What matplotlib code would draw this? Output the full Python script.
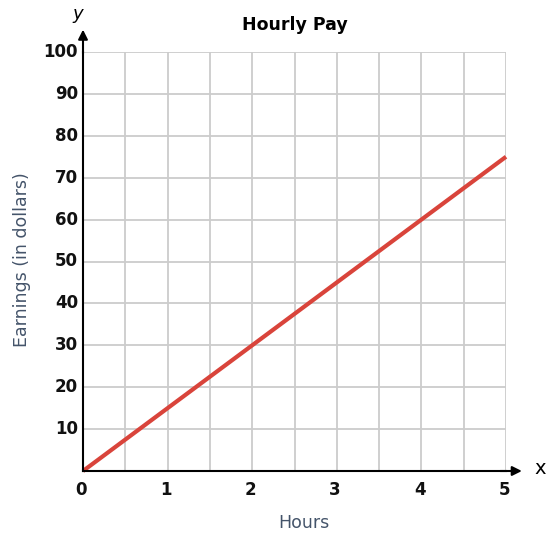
import numpy as np
import matplotlib.pyplot as plt

hours = [0, 5]
earnings = [0, 75]
x_ticks = [0, 1, 2, 3, 4, 5]
y_ticks = [10, 20, 30, 40, 50, 60, 70, 80, 90, 100]

fig = plt.figure(figsize=(5.5, 5.4), dpi=100)
ax = fig.add_axes([83 / 550, 69 / 540, 423 / 550, 419 / 540])
ax.set_xlim(0, 5)
ax.set_ylim(0, 100)

ax.set_xticks(np.arange(0, 5.01, 0.5), minor=False)
ax.set_yticks(np.arange(0, 100.1, 10))
ax.grid(True, color="#cccccc", linewidth=1.3)
ax.set_xticklabels([])
ax.set_yticklabels([])
ax.tick_params(length=0)
for s in ["top", "right"]:
    ax.spines[s].set_visible(False)
for s in ["left", "bottom"]:
    ax.spines[s].set_linewidth(1.5)
    ax.spines[s].set_zorder(5)

ax.plot(hours, earnings, color="#d9443b", linewidth=3, solid_capstyle="butt",
        zorder=4, clip_on=False)

for t in x_ticks:
    ax.text(t - 0.02, -2.5, str(t), ha="center", va="top", fontsize=12,
            fontweight="bold", color="#111111")
for t in y_ticks:
    ax.text(-0.06, t, str(t), ha="right", va="center", fontsize=12,
            fontweight="bold", color="#111111")

# axis arrows
ax.annotate("", xy=(0, 106), xytext=(0, 99), xycoords="data",
            arrowprops=dict(arrowstyle="-|>", color="black", lw=1.5,
                            mutation_scale=14), annotation_clip=False)
ax.annotate("", xy=(5.22, 0), xytext=(4.9, 0), xycoords="data",
            arrowprops=dict(arrowstyle="-|>", color="black", lw=1.5,
                            mutation_scale=14), annotation_clip=False)
ax.text(-0.06, 109, "y", fontsize=13, style="italic", ha="center", va="center")
ax.text(5.4, 0.5, "x", fontsize=14, ha="center", va="center")

ax.set_title("Hourly Pay", fontsize=12.5, fontweight="bold", pad=16)
fig.text(304 / 550, 1 - 523 / 540, "Hours", ha="center", va="center",
         fontsize=12.5, color="#44546a")
fig.text(22 / 550, 1 - 260 / 540, "Earnings (in dollars)", ha="center",
         va="center", rotation=90, fontsize=12.5, color="#44546a")

fig.savefig("out.png", dpi=100)
